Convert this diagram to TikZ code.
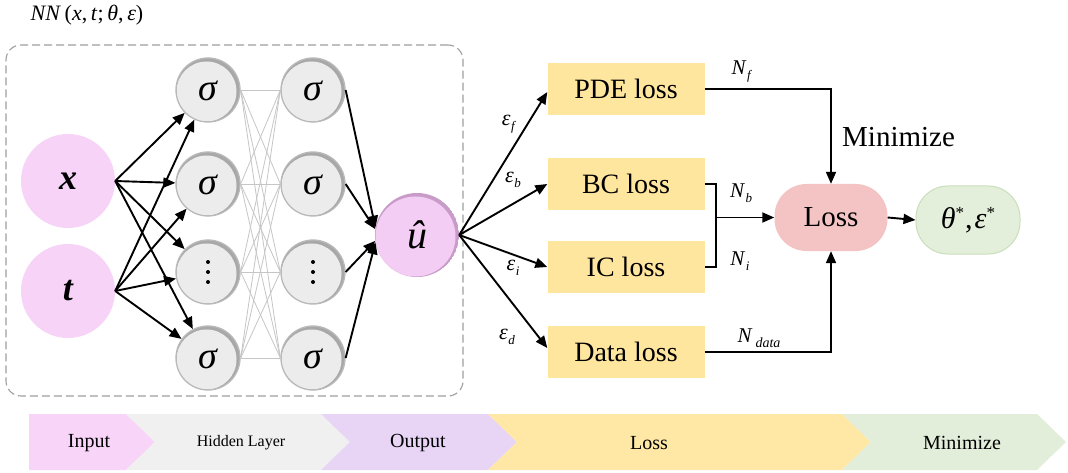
\documentclass[tikz,border=0pt]{standalone}
\usepackage{fontspec}
\setmainfont{Liberation Serif}
\usetikzlibrary{arrows.meta,calc}
\definecolor{inpink}{HTML}{F7D3F7}
\definecolor{upinkin}{HTML}{F3CDF3}
\definecolor{upinkout}{HTML}{C99BC9}
\definecolor{boxy}{HTML}{FFE69E}
\definecolor{lossred}{HTML}{F4C4C4}
\definecolor{resg}{HTML}{E3EFDA}
\definecolor{resgd}{HTML}{C9DFBA}
\definecolor{barin}{HTML}{F8D5F8}
\definecolor{barhid}{HTML}{F0F0F0}
\definecolor{barout}{HTML}{E8D5F6}
\definecolor{barloss}{HTML}{FFE8A6}
\definecolor{barmin}{HTML}{E2EEDA}
\definecolor{hidin}{HTML}{ECECEC}
\definecolor{hidout}{HTML}{A8A8A8}
\newcommand\fs[1]{\fontsize{#1}{#1}\selectfont}
\newcommand\mysub[3]{\textit{#1}\kern0.5pt\raisebox{-5pt}{\fs{#3}\textit{#2}}}
\begin{document}
\begin{tikzpicture}[x=1pt,y=-1pt,
  inp/.style={circle,fill=inpink,minimum size=94pt,inner sep=0pt},
  hid/.style={circle,minimum size=64pt,inner sep=0pt,
    path picture={
      \fill[hidout] (path picture bounding box.center) circle (32pt);
      \fill[hidin] ($(path picture bounding box.center)+(-1.5pt,-1.5pt)$) circle (30pt);
    },
    draw=gray!55,line width=1.3pt},
  outn/.style={circle,minimum size=84pt,inner sep=0pt,
    path picture={
      \fill[upinkout] (path picture bounding box.center) circle (42pt);
      \fill[upinkin] ($(path picture bounding box.center)+(-1.5pt,-1.5pt)$) circle (40pt);
    }},
  lossbox/.style={rectangle,fill=boxy,minimum width=157pt,minimum height=52pt,inner sep=0pt,font=\fs{28}},
  arr/.style={line width=1.9pt,-{Triangle[length=12pt,width=10pt]}},
  thin/.style={draw=gray!45,line width=0.8pt},
  lbl/.style={inner sep=0pt,font=\fs{22}},
  bartext/.style={inner sep=0pt,font=\fs{20}},
  frame/.style={draw=gray!75,dash pattern=on 8pt off 4pt,line width=1.1pt,rounded corners=15pt,minimum width=457pt,minimum height=351pt,inner sep=0pt}
]
\fill[white] (0,0) rectangle (1068,473);
\useasboundingbox (0,0) rectangle (1068,473);

% title
\node[inner sep=0pt,font=\fs{22}] (title) at (87,15) {\textit{NN}\,(\textit{x},\,\textit{t};\,\textit{θ},\,\textit{ε})};

% frame
\node[frame] (nn) at (234.5,220.5) {};

% input
\node[inp] (x) at (68,181) {\fs{36}\bfseries\itshape x};
\node[inp] (t) at (68,291) {\fs{36}\bfseries\itshape t};

% hidden layers
\foreach \i/\y in {1/90,2/184,3/272,4/358}{
  \node[hid] (a\i) at (208,\y) {};
  \node[hid] (b\i) at (313,\y) {};
}
\foreach \i in {1,2,4}{
  \node[font=\fs{38}\itshape,inner sep=0pt] at ($(a\i)+(0,1)$) {σ};
  \node[font=\fs{38}\itshape,inner sep=0pt] at ($(b\i)+(0,1)$) {σ};
}
\foreach \n in {a3,b3}{
  \foreach \d in {-10,0,10}{
    \fill ($(\n)+(0,\d)$) circle (2pt);
  }
}
\foreach \i in {1,...,4}{
  \foreach \j in {1,...,4}{
    \draw[thin] (a\i.east) -- (b\j.west);
  }
}

% output
\node[outn] (u) at (417,235) {\fs{40}\itshape û};

% input arrows
\foreach \i in {1,...,4}{
  \draw[arr] (x.east) -- (a\i);
  \draw[arr] (t.east) -- (a\i);
}
% to output
\draw[arr] (b1.east) -- (u.170);
\draw[arr] (b2.east) -- (u.172);
\draw[arr] (b3.east) -- (u.188);
\draw[arr] (b4.east) -- (u.190);

% loss boxes
\node[lossbox] (pde) at (626,89) {PDE loss};
\node[lossbox] (bc) at (626,184) {BC loss};
\node[lossbox] (ic) at (626,267) {IC loss};
\node[lossbox] (data) at (626,352) {Data loss};

\draw[arr] (u.east) -- ($(pde.west)+(0,3)$);
\draw[arr] (u.east) -- (bc.west);
\draw[arr] (u.east) -- (ic.west);
\draw[arr] (u.east) -- ($(data.west)+(0,-4)$);

\node[lbl] (ef) at (509,124) {\mysub{ε}{f}{13}};
\node[lbl] (eb) at (513,180) {\mysub{ε}{b}{13}};
\node[lbl] (ei) at (513,268) {\mysub{ε}{i}{13}};
\node[lbl] (ed) at (507,337) {\mysub{ε}{d}{13}};

% Loss and result
\node[rectangle,fill=lossred,rounded corners=32pt,minimum width=113pt,minimum height=67pt,inner sep=0pt,font=\fs{29}] (loss) at (831,217.5) {Loss};
\node[rectangle,fill=resg,draw=resgd,line width=1pt,rounded corners=32pt,minimum width=104pt,minimum height=68pt,inner sep=0pt,font=\fs{30}] (res) at (968,220) {\textit{θ}\raisebox{10pt}{\fs{17}*}\kern1pt,\kern2pt\textit{ε}\raisebox{10pt}{\fs{17}*}};
\draw[arr] (loss.east) -- (res.west);

\coordinate (j) at (716,217.5);
\draw[line width=1.9pt] (bc.east) -| (j) |- (ic.east);
\draw[arr] (j) -- (loss.west);
\draw[arr] (pde.east) -| (loss.north);
\draw[arr] (data.east) -| (loss.south);

\node[lbl,font=\fs{21}] (nf) at (742,72) {\mysub{N}{f}{13}};
\node[lbl,font=\fs{21}] (nb) at (741,193) {\mysub{N}{b}{13}};
\node[lbl,font=\fs{21}] (ni) at (740,261) {\mysub{N}{i}{13}};
\node[lbl,font=\fs{21}] (nd) at (759,338) {\textit{N}\kern3pt\raisebox{-5pt}{\fs{14}\textit{data}}};

\node[anchor=west,inner sep=0pt,font=\fs{29}] (minl) at (842,137) {Minimize};

% bottom bar
\fill[barin] (29,414) -- (126,414) -- (155,442) -- (126,470) -- (29,470) -- cycle;
\fill[barhid] (126,414) -- (321,414) -- (350,442) -- (321,470) -- (126,470) -- (155,442) -- cycle;
\fill[barout] (321,414) -- (488,414) -- (517,442) -- (488,470) -- (321,470) -- (350,442) -- cycle;
\fill[barloss] (488,414) -- (842,414) -- (871,442) -- (842,470) -- (488,470) -- (517,442) -- cycle;
\fill[barmin] (842,414) -- (1037,414) -- (1066,442) -- (1037,470) -- (842,470) -- (871,442) -- cycle;
\node[bartext] (b-in) at (89,443) {Input};
\node[bartext,font=\fs{16}] (b-hid) at (241,443) {Hidden Layer};
\node[bartext] (b-out) at (418,443) {Output};
\node[bartext] (b-loss) at (649,443) {Loss};
\node[bartext] (b-min) at (962,443) {Minimize};
\end{tikzpicture}
\end{document}
